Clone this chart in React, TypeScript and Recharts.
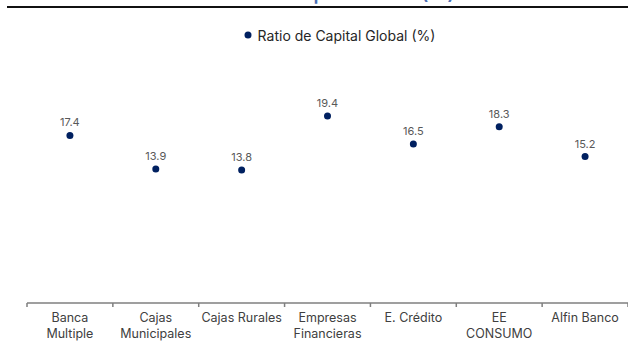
import React from "react";
import { LineChart, Line, XAxis, YAxis, LabelList, Legend } from "recharts";

const categories = ["Banca Multiple", "Cajas Municipales", "Cajas Rurales", "Empresas Financieras", "E. Crédito", "EE CONSUMO", "Alfin Banco"];
const tickLines = [["Banca", "Multiple"], ["Cajas", "Municipales"], ["Cajas Rurales"], ["Empresas", "Financieras"], ["E. Crédito"], ["EE", "CONSUMO"], ["Alfin Banco"]];
const ratioValues = [17.4, 13.9, 13.8, 19.4, 16.5, 18.3, 15.2];
const seriesName = "Ratio de Capital Global (%)";
const titleText = "Ratio de Capital Global (%)";

const data = categories.map((c, i) => ({ name: c, value: ratioValues[i], idx: i }));

const FONT = "Inter, sans-serif";
const NAVY = "#002060";

const CustomTick = (props: any) => {
  const { x, y, payload } = props;
  const idx = categories.indexOf(payload.value);
  const lines = tickLines[idx] || [payload.value];
  const half = payload.offset || 0;
  const axisY = y - 8;
  return (
    <g>
      <line x1={x - half} x2={x - half} y1={axisY} y2={axisY + 4} stroke="#7f7f7f" strokeWidth={1.5} />
      {idx === categories.length - 1 && (
        <line x1={x + half} x2={x + half} y1={axisY} y2={axisY + 4} stroke="#7f7f7f" strokeWidth={1.5} />
      )}
      <text x={x} y={y} textAnchor="middle" fontFamily={FONT} fontSize={12.5} fill="#404040">
        {lines.map((l: string, i: number) => (
          <tspan key={i} x={x} dy={i === 0 ? 11 : 16}>{l}</tspan>
        ))}
      </text>
    </g>
  );
};

const LegendContent = () => (
  <div style={{ height: 0, display: "flex", justifyContent: "center", alignItems: "center", fontFamily: FONT, fontSize: 14, color: "#262626", overflow: "visible", paddingLeft: 50 }}>
    <svg width={10} height={10} style={{ marginRight: 5, flexShrink: 0 }}>
      <circle cx={5} cy={5} r={3.5} fill={NAVY} />
    </svg>
    <span style={{ whiteSpace: "nowrap" }}>{seriesName}</span>
  </div>
);

export default function App() {
  return (
    <div style={{ position: "absolute", left: 0, top: 0, width: 628, height: 352, overflow: "hidden", background: "#fff" }}>
      <div style={{ position: "absolute", left: 150, width: 364, top: -16, textAlign: "center", fontFamily: FONT, fontWeight: 600, fontSize: 19, lineHeight: "20px", color: "#4a6fb5", whiteSpace: "nowrap" }}>
        {titleText}
      </div>
      <div style={{ position: "absolute", left: 7, right: 0, top: 6, height: 2, background: "#111" }} />
      <LineChart width={628} height={352} data={data} margin={{ top: 14, right: 0, left: 27, bottom: 0 }}>
        <XAxis dataKey="name" scale="band" interval={0} height={49} tickLine={false} axisLine={{ stroke: "#7f7f7f", strokeWidth: 1.5 }} tick={<CustomTick />} />
        <YAxis hide domain={[0, 30]} />
        <Legend verticalAlign="top" content={<LegendContent />} wrapperStyle={{ top: 35, left: 0, width: 628, height: 0 }} />
        <Line dataKey="value" name={seriesName} stroke="none" isAnimationActive={false} dot={{ r: 3.5, fill: NAVY, stroke: NAVY, strokeWidth: 0 }} activeDot={false}>
          <LabelList dataKey="value" position="top" offset={9} fontFamily={FONT} fontSize={11} fill="#595959" formatter={(v: any) => Number(v).toFixed(1)} />
        </Line>
      </LineChart>
    </div>
  );
}
